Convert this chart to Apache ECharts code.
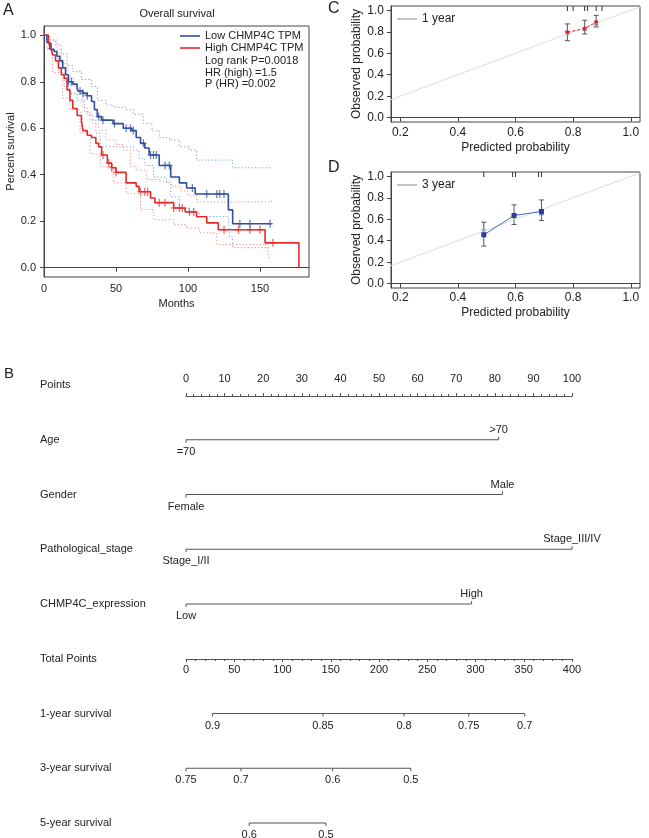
<!DOCTYPE html>
<html><head><meta charset="utf-8">
<script src="https://cdn.jsdelivr.net/npm/echarts@6/dist/echarts.min.js"></script>
<style>html,body{margin:0;padding:0;background:#fff}#c{width:649px;height:838px}</style>
</head><body><div id="c"></div>
<script>
// ---------- Panel A: Kaplan-Meier ----------
const monthTicks = [0, 50, 100, 150];
const survTicks = [0, 0.2, 0.4, 0.6, 0.8, 1.0];
const lowKM = [[0,1],[2,0.97],[4,0.94],[7,0.93],[9,0.91],[11,0.89],[13,0.86],[15,0.83],[17,0.80],[20,0.79],[23,0.77],[24,0.76],[27,0.75],[30,0.74],[33,0.715],[35,0.68],[37,0.65],[40,0.635],[48,0.62],[55,0.60],[61,0.59],[64,0.56],[67,0.535],[70,0.515],[73,0.485],[80,0.44],[88,0.39],[94,0.365],[99,0.343],[105,0.317],[128,0.249],[131,0.189],[158,0.189]];
const highKM = [[0,1],[3,0.965],[5,0.94],[6,0.915],[8,0.89],[10,0.86],[12,0.83],[14,0.815],[16,0.765],[18,0.72],[20,0.685],[23,0.655],[26,0.63],[27,0.59],[30,0.57],[33,0.56],[36,0.535],[38,0.52],[40,0.485],[44,0.45],[47,0.43],[50,0.41],[57,0.365],[64,0.35],[66,0.327],[74,0.30],[77,0.28],[90,0.257],[98,0.24],[106,0.219],[113,0.193],[121,0.163],[153.5,0.107],[177,0]];
const lowCensor = [[17,0.80],[19,0.80],[25,0.76],[27,0.75],[30,0.74],[38,0.65],[41,0.635],[49,0.62],[57,0.60],[60,0.60],[62,0.59],[69,0.535],[74,0.485],[76,0.485],[78,0.485],[84,0.44],[87,0.44],[103,0.343],[113,0.317],[120,0.317],[122,0.317],[125,0.317],[136,0.189],[143,0.189],[157,0.189]];
const highCensor = [[41,0.485],[45,0.45],[47,0.43],[50,0.41],[67,0.327],[70,0.327],[72,0.327],[80,0.28],[84,0.28],[90,0.257],[94,0.257],[96,0.257],[101,0.24],[104,0.24],[125,0.163],[135,0.163],[143,0.163],[150,0.163],[159,0.107]];
const lowUpper = [[0,1],[4,0.98],[8,0.96],[12,0.92],[16,0.87],[20,0.845],[26,0.81],[33,0.78],[37,0.72],[43,0.70],[48,0.69],[57,0.68],[62,0.66],[69,0.62],[75,0.59],[80,0.56],[87,0.55],[94,0.52],[101,0.506],[106,0.463],[131,0.43],[158,0.43]];
const lowLower = [[0,1],[3,0.94],[6,0.90],[10,0.84],[14,0.78],[18,0.75],[23,0.72],[28,0.67],[32,0.635],[36,0.58],[39,0.52],[50,0.52],[62,0.506],[66,0.47],[70,0.44],[76,0.39],[85,0.365],[88,0.305],[94,0.26],[100,0.24],[108,0.22],[128,0.206],[129,0.133],[131,0.086],[156,0.086]];
const highUpper = [[0,1],[4,0.98],[9,0.92],[12,0.88],[16,0.82],[20,0.78],[23,0.75],[27,0.69],[30,0.66],[34,0.62],[38,0.59],[43,0.55],[50,0.53],[55,0.506],[60,0.435],[64,0.42],[71,0.38],[80,0.37],[88,0.35],[95,0.33],[100,0.31],[106,0.283],[158,0.29]];
const highLower = [[0,1],[2,0.94],[6,0.84],[13,0.73],[18,0.68],[25,0.58],[32,0.49],[39,0.435],[48,0.365],[57,0.32],[67,0.25],[76,0.206],[90,0.185],[99,0.17],[108,0.15],[120,0.10],[155,0.09],[156,0.043],[158,0.043]];
const kmNames = ['Low CHMP4C TPM', 'High CHMP4C TPM'];
const statsText = ['Log rank P=0.0018', 'HR (high) =1.5', 'P (HR) =0.002'];

// ---------- Panels C / D: calibration ----------
const probTicks = [0.2, 0.4, 0.6, 0.8, 1.0];
const obsTicks = [0, 0.2, 0.4, 0.6, 0.8, 1.0];
const diagEnds = [0, 1.1];
const c1Pred = [0.78, 0.84, 0.88];
const c1Obs = [0.795, 0.83, 0.89];
const c1Lo = [0.717, 0.78, 0.845];
const c1Hi = [0.873, 0.907, 0.953];
const c1Corr = [0.79, 0.825, 0.88];
const c1Rug = [0.78, 0.80, 0.84, 0.85, 0.88, 0.90];
const d3Pred = [0.49, 0.595, 0.69];
const d3Obs = [0.455, 0.635, 0.672];
const d3Lo = [0.35, 0.551, 0.588];
const d3Hi = [0.573, 0.734, 0.78];
const d3Corr = [0.486, 0.63, 0.655];
const d3Rug = [0.49, 0.59, 0.60, 0.68, 0.69];

// ---------- Panel B: nomogram ----------
const rowNames = ['Points','Age','Gender','Pathological_stage','CHMP4C_expression','Total Points','1-year survival','3-year survival','5-year survival'];
const ageLevels = ['=70', '>70'];          const agePoints = [0, 81];
const genderLevels = ['Female', 'Male'];   const genderPoints = [0, 82];
const stageLevels = ['Stage_I/II', 'Stage_III/IV']; const stagePoints = [0, 100];
const exprLevels = ['Low', 'High'];        const exprPoints = [0, 74];
const surv1yLabels = ['0.9','0.85','0.8','0.75','0.7']; const surv1yTotals = [27.5, 142, 226, 293, 351];
const surv3yLabels = ['0.75','0.7','0.6','0.5'];        const surv3yTotals = [0, 57, 152, 233];
const surv5yLabels = ['0.6','0.5'];                     const surv5yTotals = [65.5, 145];

// ---------- build ----------
const FONT = 'Liberation Sans, Arial, sans-serif';
const TXT = '#222';
const AX = '#444';
const blue = '#2f4f9f', red = '#e52a2a', blueBand = '#7f9ad6', redBand = '#f08a8a';
const plusSym = 'path://M2,0H3V7H2Z M0,3H5V4H0Z';
const xSym = 'path://M0,0.8L0.8,0L5,4.2L4.2,5Z M4.2,0L5,0.8L0.8,5L0,4.2Z';

const chart = echarts.init(document.getElementById('c'), null, {renderer: 'canvas'});

function baseAxis(extra) {
  return Object.assign({
    type: 'value', splitLine: {show: false},
    axisLine: {show: true, lineStyle: {color: AX, width: 1}},
    axisTick: {show: true, length: 4, lineStyle: {color: AX}},
    axisLabel: {color: TXT, fontFamily: FONT, fontSize: 11},
    nameTextStyle: {color: TXT, fontFamily: FONT, fontSize: 11}
  }, extra);
}
const fmt1 = v => v.toFixed(1);

const varRows = [
  {row: 1, pts: agePoints, lab: ageLevels},
  {row: 2, pts: genderPoints, lab: genderLevels},
  {row: 3, pts: stagePoints, lab: stageLevels},
  {row: 4, pts: exprPoints, lab: exprLevels}
];
const survRows = [
  {row: 6, tot: surv1yTotals, lab: surv1yLabels},
  {row: 7, tot: surv3yTotals, lab: surv3yLabels},
  {row: 8, tot: surv5yTotals, lab: surv5yLabels}
];
const NOMO_LINE = '#555';
const nomoText = (t, x, y) => ({type: 'text', style: {text: t, x: x, y: y, align: 'center', verticalAlign: 'middle', fill: TXT, font: '11px ' + FONT}});
const seg = (x1, y1, x2, y2) => ({type: 'line', shape: {x1, y1, x2, y2}, style: {stroke: NOMO_LINE, lineWidth: 1}});

function errBars(xs, lo, hi) {
  return {
    type: 'custom', silent: true,
    data: xs.map((x, i) => [x, lo[i], hi[i]]),
    encode: {x: 0, y: [1, 2]},
    renderItem: (params, api) => {
      const i = params.dataIndex;
      const a = api.coord([xs[i], lo[i]]), b = api.coord([xs[i], hi[i]]);
      const st = {stroke: '#555', lineWidth: 1};
      return {type: 'group', children: [
        {type: 'line', shape: {x1: a[0], y1: a[1], x2: b[0], y2: b[1]}, style: st},
        {type: 'line', shape: {x1: a[0]-2.5, y1: a[1], x2: a[0]+2.5, y2: a[1]}, style: st},
        {type: 'line', shape: {x1: b[0]-2.5, y1: b[1], x2: b[0]+2.5, y2: b[1]}, style: st}
      ]};
    }
  };
}
function rug(vals, yTop) {
  return {
    type: 'custom', silent: true, clip: false,
    data: vals.map(v => [v, yTop]),
    renderItem: (params, api) => {
      const p = api.coord([vals[params.dataIndex], yTop]);
      return {type: 'line', shape: {x1: p[0], y1: p[1], x2: p[0], y2: p[1] + 5}, style: {stroke: '#333', lineWidth: 1}};
    }
  };
}
const OBS_MAX = 1.04;

const option = {
  animation: false,
  backgroundColor: '#fff',
  textStyle: {fontFamily: FONT},
  grid: [
    {left: 44, top: 26, width: 265, height: 251, show: true, borderColor: AX, borderWidth: 1},
    {left: 391, top: 6, width: 249, height: 116, show: true, borderColor: AX, borderWidth: 1},
    {left: 391, top: 172, width: 249, height: 116, show: true, borderColor: AX, borderWidth: 1},
    {left: 186, top: 385, width: 386, height: 438},
    {left: 186, top: 395, width: 386, height: 1},
    {left: 186, top: 658, width: 386, height: 1}
  ],
  xAxis: [
    baseAxis({gridIndex: 0, min: 0, max: 184, name: 'Months', nameLocation: 'middle', nameGap: 21,
      axisTick: {show: true, length: 4, lineStyle: {color: AX}, customValues: monthTicks},
      axisLabel: {color: TXT, fontFamily: FONT, fontSize: 11, margin: 6, customValues: monthTicks}}),
    baseAxis({gridIndex: 1, min: 0.168, max: 1.032, name: 'Predicted probability', nameLocation: 'middle', nameGap: 20,
      nameTextStyle: {color: TXT, fontFamily: FONT, fontSize: 12},
      axisTick: {show: true, length: 4, lineStyle: {color: AX}, customValues: probTicks},
      axisLabel: {color: TXT, fontFamily: FONT, fontSize: 12, margin: 5, customValues: probTicks, formatter: fmt1}}),
    baseAxis({gridIndex: 2, min: 0.168, max: 1.032, name: 'Predicted probability', nameLocation: 'middle', nameGap: 19,
      nameTextStyle: {color: TXT, fontFamily: FONT, fontSize: 12},
      axisTick: {show: true, length: 4, lineStyle: {color: AX}, customValues: probTicks},
      axisLabel: {color: TXT, fontFamily: FONT, fontSize: 12, margin: 4, customValues: probTicks, formatter: fmt1}}),
    {type: 'value', gridIndex: 3, min: 0, max: 100, show: false, position: 'top'},
    {type: 'value', gridIndex: 3, min: 0, max: 400, show: false, position: 'bottom'},
    {type: 'value', gridIndex: 4, min: 0, max: 100, interval: 10, position: 'top', splitLine: {show: false},
      axisLine: {show: true, lineStyle: {color: NOMO_LINE}},
      axisTick: {show: true, length: 3, lineStyle: {color: NOMO_LINE}},
      minorTick: {show: true, splitNumber: 5, length: 2, lineStyle: {color: NOMO_LINE}},
      axisLabel: {color: TXT, fontFamily: FONT, fontSize: 11, margin: 11}},
    {type: 'value', gridIndex: 5, min: 0, max: 400, interval: 50, position: 'bottom', splitLine: {show: false},
      axisLine: {show: true, lineStyle: {color: NOMO_LINE}},
      axisTick: {show: true, length: 3, lineStyle: {color: NOMO_LINE}},
      minorTick: {show: true, splitNumber: 5, length: 2, lineStyle: {color: NOMO_LINE}},
      axisLabel: {color: TXT, fontFamily: FONT, fontSize: 11, margin: 5}}
  ],
  yAxis: [
    baseAxis({gridIndex: 0, min: -0.04, max: 1.04, name: 'Percent survival', nameLocation: 'middle', nameGap: 28,
      axisTick: {show: true, length: 4, lineStyle: {color: AX}, customValues: survTicks},
      axisLabel: {color: TXT, fontFamily: FONT, fontSize: 11, margin: 8, customValues: survTicks, formatter: fmt1}}),
    baseAxis({gridIndex: 1, min: -0.04, max: 1.04, name: 'Observed probability', nameLocation: 'middle', nameGap: 28,
      nameTextStyle: {color: TXT, fontFamily: FONT, fontSize: 12},
      axisTick: {show: true, length: 4, lineStyle: {color: AX}, customValues: obsTicks},
      axisLabel: {color: TXT, fontFamily: FONT, fontSize: 12, margin: 7, customValues: obsTicks, formatter: fmt1}}),
    baseAxis({gridIndex: 2, min: -0.04, max: 1.04, name: 'Observed probability', nameLocation: 'middle', nameGap: 28,
      nameTextStyle: {color: TXT, fontFamily: FONT, fontSize: 12},
      axisTick: {show: true, length: 4, lineStyle: {color: AX}, customValues: obsTicks},
      axisLabel: {color: TXT, fontFamily: FONT, fontSize: 12, margin: 7, customValues: obsTicks, formatter: fmt1}}),
    {type: 'category', gridIndex: 3, data: rowNames, inverse: true, boundaryGap: false,
      axisLine: {show: false}, axisTick: {show: false}, splitLine: {show: false},
      axisLabel: {show: true, align: 'left', margin: 146, color: TXT, fontFamily: FONT, fontSize: 11, interval: 0}},
    {type: 'value', gridIndex: 4, show: false},
    {type: 'value', gridIndex: 5, show: false}
  ],
  legend: [
    {left: 180, top: 30, padding: 0, orient: 'vertical', icon: 'rect', itemWidth: 20, itemHeight: 1.6, itemGap: 0, selectedMode: false,
      data: kmNames, textStyle: {color: TXT, fontFamily: FONT, fontSize: 11, lineHeight: 12}},
    {left: 397, top: 13, padding: 0, icon: 'rect', itemWidth: 20, itemHeight: 1, itemGap: 3, selectedMode: false,
      data: [{name: '1 year', itemStyle: {color: '#888'}}],
      textStyle: {color: TXT, fontFamily: FONT, fontSize: 12}},
    {left: 397, top: 179, padding: 0, icon: 'rect', itemWidth: 20, itemHeight: 1, itemGap: 3, selectedMode: false,
      data: [{name: '3 year', itemStyle: {color: '#888'}}],
      textStyle: {color: TXT, fontFamily: FONT, fontSize: 12}}
  ],
  graphic: [
    {type: 'text', left: 3, top: 3, style: {text: 'A', fill: TXT, font: '16px ' + FONT}},
    {type: 'text', left: 328, top: 1, style: {text: 'C', fill: TXT, font: '16px ' + FONT}},
    {type: 'text', left: 328, top: 160, style: {text: 'D', fill: TXT, font: '16px ' + FONT}},
    {type: 'text', left: 4, top: 366, style: {text: 'B', fill: TXT, font: '15px ' + FONT}},
    {type: 'text', x: 177, y: 14, style: {text: 'Overall survival', fill: TXT, font: '11px ' + FONT, align: 'center', verticalAlign: 'middle'}},
    ...statsText.map((t, i) => ({type: 'text', x: 205, y: 61 + i * 11.7, style: {text: t, fill: TXT, font: '11px ' + FONT, verticalAlign: 'middle'}}))
  ],
  series: [
    // Panel A bands
    {type: 'line', xAxisIndex: 0, yAxisIndex: 0, step: 'end', data: lowUpper, symbol: 'none', silent: true, lineStyle: {color: blueBand, width: 1, type: [1.2, 2.2]}},
    {type: 'line', xAxisIndex: 0, yAxisIndex: 0, step: 'end', data: lowLower, symbol: 'none', silent: true, lineStyle: {color: blueBand, width: 1, type: [1.2, 2.2]}},
    {type: 'line', xAxisIndex: 0, yAxisIndex: 0, step: 'end', data: highUpper, symbol: 'none', silent: true, lineStyle: {color: redBand, width: 1, type: [1.2, 2.2]}},
    {type: 'line', xAxisIndex: 0, yAxisIndex: 0, step: 'end', data: highLower, symbol: 'none', silent: true, lineStyle: {color: redBand, width: 1, type: [1.2, 2.2]}},
    // Panel A curves
    {name: kmNames[0], type: 'line', xAxisIndex: 0, yAxisIndex: 0, step: 'end', data: lowKM, symbol: 'none', color: blue, lineStyle: {color: blue, width: 1.6}},
    {name: kmNames[1], type: 'line', xAxisIndex: 0, yAxisIndex: 0, step: 'end', data: highKM, symbol: 'none', color: red, lineStyle: {color: red, width: 1.6}},
    {type: 'scatter', xAxisIndex: 0, yAxisIndex: 0, data: lowCensor, symbol: plusSym, symbolSize: [6, 8], itemStyle: {color: blue, opacity: 0.75}, silent: true},
    {type: 'scatter', xAxisIndex: 0, yAxisIndex: 0, data: highCensor, symbol: plusSym, symbolSize: [6, 8], itemStyle: {color: red, opacity: 0.75}, silent: true},
    // Panel C
    {name: '1 year', type: 'line', xAxisIndex: 1, yAxisIndex: 1, data: diagEnds.map(v => [v, v]), symbol: 'none', silent: true, color: '#888', lineStyle: {color: '#dcdcdc', width: 1}},
    Object.assign(rug(c1Rug, OBS_MAX), {xAxisIndex: 1, yAxisIndex: 1}),
    Object.assign(errBars(c1Pred, c1Lo, c1Hi), {xAxisIndex: 1, yAxisIndex: 1}),
    {type: 'line', xAxisIndex: 1, yAxisIndex: 1, data: c1Pred.map((x, i) => [x, c1Obs[i]]), symbol: 'circle', symbolSize: 4, silent: true,
      itemStyle: {color: red}, lineStyle: {color: red, width: 1, type: [3, 2]}},
    {type: 'scatter', xAxisIndex: 1, yAxisIndex: 1, data: c1Pred.map((x, i) => [x, c1Corr[i]]), symbol: xSym, symbolSize: 5, itemStyle: {color: '#4a5fb8'}, silent: true},
    // Panel D
    {name: '3 year', type: 'line', xAxisIndex: 2, yAxisIndex: 2, data: diagEnds.map(v => [v, v]), symbol: 'none', silent: true, color: '#888', lineStyle: {color: '#dcdcdc', width: 1}},
    Object.assign(rug(d3Rug, OBS_MAX), {xAxisIndex: 2, yAxisIndex: 2}),
    Object.assign(errBars(d3Pred, d3Lo, d3Hi), {xAxisIndex: 2, yAxisIndex: 2}),
    {type: 'line', xAxisIndex: 2, yAxisIndex: 2, data: d3Pred.map((x, i) => [x, d3Obs[i]]), symbol: 'rect', symbolSize: 5, silent: true,
      itemStyle: {color: '#2a3d9a'}, lineStyle: {color: '#4a64c8', width: 1}},
    {type: 'scatter', xAxisIndex: 2, yAxisIndex: 2, data: d3Pred.map((x, i) => [x, d3Corr[i]]), symbol: xSym, symbolSize: 5, itemStyle: {color: '#4a5fb8'}, silent: true},
    // Nomogram variable rows
    {type: 'custom', xAxisIndex: 3, yAxisIndex: 3, clip: false, silent: true,
      data: varRows.map(r => [r.pts[1], r.row]),
      renderItem: (params, api) => {
        const r = varRows[params.dataIndex];
        const a = api.coord([r.pts[0], r.row]), b = api.coord([r.pts[1], r.row]);
        return {type: 'group', children: [
          seg(a[0], a[1], b[0], b[1]),
          seg(a[0], a[1], a[0], a[1] + 3),
          seg(b[0], b[1], b[0], b[1] - 3),
          nomoText(r.lab[0], a[0], a[1] + 12),
          nomoText(r.lab[1], b[0], b[1] - 10)
        ]};
      }},
    // Nomogram survival rows
    {type: 'custom', xAxisIndex: 4, yAxisIndex: 3, clip: false, silent: true,
      data: survRows.map(r => [r.tot[0], r.row]),
      renderItem: (params, api) => {
        const r = survRows[params.dataIndex];
        const pts = r.tot.map(t => api.coord([t, r.row]));
        const kids = [seg(pts[0][0], pts[0][1], pts[pts.length - 1][0], pts[0][1])];
        pts.forEach((p, i) => {
          kids.push(seg(p[0], p[1], p[0], p[1] + 3));
          kids.push(nomoText(r.lab[i], p[0], p[1] + 12));
        });
        return {type: 'group', children: kids};
      }}
  ]
};
chart.setOption(option);
</script>
</body></html>
